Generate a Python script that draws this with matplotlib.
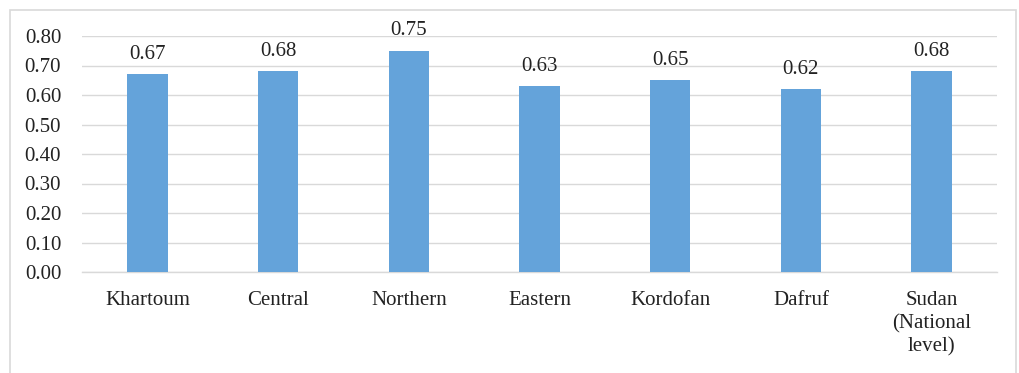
import matplotlib
matplotlib.use("Agg")
import matplotlib.pyplot as plt
from matplotlib.patches import Rectangle

regions = ["Khartoum", "Central", "Northern", "Eastern", "Kordofan", "Dafruf",
           "Sudan\n(National\nlevel)"]
values = [0.67, 0.68, 0.75, 0.63, 0.65, 0.62, 0.68]
yticks = [0.0, 0.1, 0.2, 0.3, 0.4, 0.5, 0.6, 0.7, 0.8]

plt.rcParams['font.family'] = ['Liberation Serif', 'DejaVu Serif']
FS = 15

fig = plt.figure(figsize=(10.19, 3.73), dpi=100)
ax = fig.add_axes([82 / 1019, 1 - 272 / 373, 915 / 1019, 236 / 373])

x = list(range(len(regions)))
bars = ax.bar(x, values, width=0.31, color='#64a3da', zorder=3)
for xi, v in zip(x, values):
    ax.text(xi, v + 0.035, f"{v:.2f}", ha='center', va='bottom', fontsize=FS, color='#222222')

ax.set_xlim(-0.5, len(regions) - 0.5)
ax.set_ylim(0, 0.8)
ax.set_yticks(yticks)
ax.set_yticklabels([f"{t:.2f}" for t in yticks], fontsize=FS, color='#222222')
ax.set_xticks(x)
ax.set_xticklabels(regions, fontsize=FS, color='#222222', linespacing=1.27, va='top')
ax.tick_params(axis='both', length=0)
ax.tick_params(axis='y', pad=15)
ax.tick_params(axis='x', pad=14)
ax.yaxis.grid(True, color='#d9d9d9', linewidth=1, zorder=0)
for s in ['left', 'right', 'top']:
    ax.spines[s].set_visible(False)
ax.spines['bottom'].set_color('#d9d9d9')
ax.spines['bottom'].set_linewidth(1)

# chart area frame
fig.patches.append(Rectangle((10 / 1019, -0.1), 1006 / 1019, 1.1 - 10 / 373,
                             transform=fig.transFigure, fill=False,
                             edgecolor='#d9d9d9', linewidth=1.2))

fig.savefig("out.png", dpi=100)
